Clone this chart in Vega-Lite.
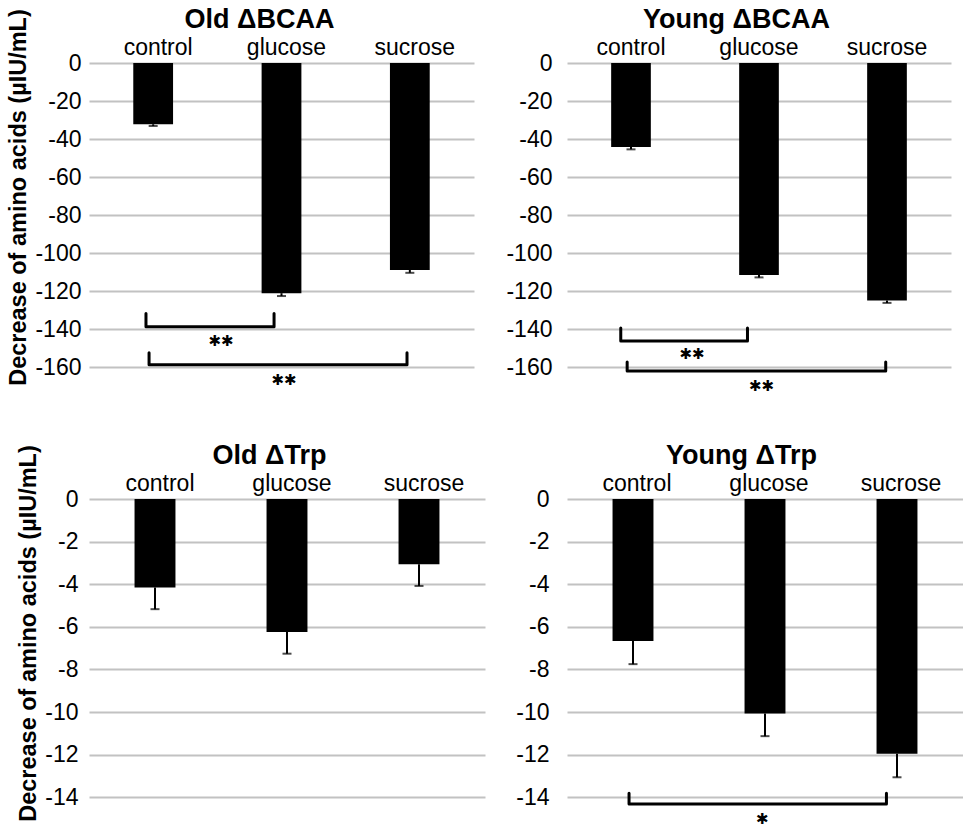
{
  "$schema": "https://vega.github.io/schema/vega-lite/v6.json",
  "padding": {"left": 6, "top": 5, "right": 0, "bottom": 0},
  "config": {
    "font": "Liberation Sans",
    "view": {"stroke": null},
    "axis": {"labelColor": "black", "titleColor": "black", "domain": false, "ticks": false, "tickSize": 0, "gridColor": "#c2c2c2", "gridWidth": 2},
    "axisX": {"orient": "top", "labelAngle": 0, "labelFontSize": 23, "labelPadding": 4, "grid": false, "titleFontSize": 27, "titleFontWeight": "bold", "titlePadding": 3},
    "axisY": {"grid": true, "labelFontSize": 23, "labelExpr": "'' + datum.value", "titleFontSize": 23.5, "titleFontWeight": "bold", "titlePadding": 4}
  },
  "datasets": {
    "bars": [
      {"panel": "Old BCAA", "group": "control", "mean": -32.2, "low": -33.1},
      {"panel": "Old BCAA", "group": "glucose", "mean": -121.0, "low": -122.5},
      {"panel": "Old BCAA", "group": "sucrose", "mean": -108.8, "low": -110.3},
      {"panel": "Young BCAA", "group": "control", "mean": -44.2, "low": -45.4},
      {"panel": "Young BCAA", "group": "glucose", "mean": -111.4, "low": -112.7},
      {"panel": "Young BCAA", "group": "sucrose", "mean": -124.9, "low": -126.1},
      {"panel": "Old Trp", "group": "control", "mean": -4.15, "low": -5.17},
      {"panel": "Old Trp", "group": "glucose", "mean": -6.24, "low": -7.26},
      {"panel": "Old Trp", "group": "sucrose", "mean": -3.06, "low": -4.08},
      {"panel": "Young Trp", "group": "control", "mean": -6.66, "low": -7.75},
      {"panel": "Young Trp", "group": "glucose", "mean": -10.07, "low": -11.13},
      {"panel": "Young Trp", "group": "sucrose", "mean": -11.96, "low": -13.06}
    ],
    "brackets": [
      {"panel": "Old BCAA", "id": 1, "seq": 1, "pos": 0.444, "val": -131.7},
      {"panel": "Old BCAA", "id": 1, "seq": 2, "pos": 0.444, "val": -138.6},
      {"panel": "Old BCAA", "id": 1, "seq": 3, "pos": 1.442, "val": -138.6},
      {"panel": "Old BCAA", "id": 1, "seq": 4, "pos": 1.442, "val": -131.7},
      {"panel": "Old BCAA", "id": 2, "seq": 1, "pos": 0.468, "val": -152.3},
      {"panel": "Old BCAA", "id": 2, "seq": 2, "pos": 0.468, "val": -158.6},
      {"panel": "Old BCAA", "id": 2, "seq": 3, "pos": 2.478, "val": -158.6},
      {"panel": "Old BCAA", "id": 2, "seq": 4, "pos": 2.478, "val": -152.3},
      {"panel": "Young BCAA", "id": 1, "seq": 1, "pos": 0.42, "val": -139.3},
      {"panel": "Young BCAA", "id": 1, "seq": 2, "pos": 0.42, "val": -146.2},
      {"panel": "Young BCAA", "id": 1, "seq": 3, "pos": 1.41, "val": -146.2},
      {"panel": "Young BCAA", "id": 1, "seq": 4, "pos": 1.41, "val": -139.3},
      {"panel": "Young BCAA", "id": 2, "seq": 1, "pos": 0.47, "val": -157.2},
      {"panel": "Young BCAA", "id": 2, "seq": 2, "pos": 0.47, "val": -161.9},
      {"panel": "Young BCAA", "id": 2, "seq": 3, "pos": 2.49, "val": -161.9},
      {"panel": "Young BCAA", "id": 2, "seq": 4, "pos": 2.49, "val": -157.2},
      {"panel": "Young Trp", "id": 1, "seq": 1, "pos": 0.47, "val": -13.81},
      {"panel": "Young Trp", "id": 1, "seq": 2, "pos": 0.47, "val": -14.31},
      {"panel": "Young Trp", "id": 1, "seq": 3, "pos": 2.42, "val": -14.31},
      {"panel": "Young Trp", "id": 1, "seq": 4, "pos": 2.42, "val": -13.81}
    ],
    "stars": [
      {"panel": "Old BCAA", "pos": 1.029, "val": -145.9, "label": "✱✱"},
      {"panel": "Old BCAA", "pos": 1.52, "val": -166.5, "label": "✱✱"},
      {"panel": "Young BCAA", "pos": 0.977, "val": -153.0, "label": "✱✱"},
      {"panel": "Young BCAA", "pos": 1.52, "val": -169.8, "label": "✱✱"},
      {"panel": "Young Trp", "pos": 1.48, "val": -15.02, "label": "✱"}
    ]
  },
  "bounds": "flush",
  "columns": 2,
  "spacing": {"row": 105, "column": 82},
  "concat": [
    {
      "width": 385, "height": 331,
      "resolve": {"scale": {"x": "independent"}, "axis": {"x": "independent", "y": "independent"}},
      "layer": [
        {
          "data": {"name": "bars"},
          "transform": [{"filter": "datum.panel === 'Old BCAA'"}],
          "mark": {"type": "bar", "color": "black"},
          "encoding": {
            "x": {"field": "group", "type": "nominal", "sort": ["control", "glucose", "sucrose"], "scale": {"paddingInner": 0.69, "paddingOuter": 0.345}, "axis": {"title": "Old ΔBCAA", "titleX": 170, "labelOffset": 5}},
            "y": {"field": "mean", "type": "quantitative", "scale": {"domain": [-174, 0], "nice": false, "zero": false}, "axis": {"values": [0, -20, -40, -60, -80, -100, -120, -140, -160], "labelPadding": 8, "title": "Decrease of amino acids (µIU/mL)", "titleY": 134}}
          }
        },
        {
          "data": {"name": "bars"},
          "transform": [{"filter": "datum.panel === 'Old BCAA'"}],
          "mark": {"type": "rule", "color": "black", "strokeWidth": 2},
          "encoding": {
            "x": {"field": "group", "type": "nominal", "sort": ["control", "glucose", "sucrose"], "axis": null},
            "y": {"field": "mean", "type": "quantitative", "scale": {"domain": [-174, 0], "nice": false, "zero": false}, "axis": null},
            "y2": {"field": "low"}
          }
        },
        {
          "data": {"name": "bars"},
          "transform": [{"filter": "datum.panel === 'Old BCAA'"}],
          "mark": {"type": "tick", "color": "black", "size": 9, "thickness": 2},
          "encoding": {
            "x": {"field": "group", "type": "nominal", "sort": ["control", "glucose", "sucrose"], "axis": null},
            "y": {"field": "low", "type": "quantitative", "scale": {"domain": [-174, 0], "nice": false, "zero": false}, "axis": null}
          }
        },
        {
          "data": {"name": "brackets"},
          "transform": [{"filter": "datum.panel === 'Old BCAA'"}],
          "mark": {"type": "line", "color": "black", "strokeWidth": 3, "strokeJoin": "round", "strokeCap": "round"},
          "encoding": {
            "x": {"field": "pos", "type": "quantitative", "scale": {"domain": [0, 3], "nice": false}, "axis": null},
            "y": {"field": "val", "type": "quantitative", "scale": {"domain": [-174, 0], "nice": false, "zero": false}, "axis": null},
            "detail": {"field": "id"},
            "order": {"field": "seq"}
          }
        },
        {
          "data": {"name": "stars"},
          "transform": [{"filter": "datum.panel === 'Old BCAA'"}],
          "mark": {"type": "text", "font": "DejaVu Sans", "fontSize": 15, "baseline": "middle", "color": "black"},
          "encoding": {
            "x": {"field": "pos", "type": "quantitative", "scale": {"domain": [0, 3], "nice": false}, "axis": null},
            "y": {"field": "val", "type": "quantitative", "scale": {"domain": [-174, 0], "nice": false, "zero": false}, "axis": null},
            "text": {"field": "label"}
          }
        }
      ]
    },
    {
      "width": 384, "height": 331,
      "resolve": {"scale": {"x": "independent"}, "axis": {"x": "independent", "y": "independent"}},
      "layer": [
        {
          "data": {"name": "bars"},
          "transform": [{"filter": "datum.panel === 'Young BCAA'"}],
          "mark": {"type": "bar", "color": "black"},
          "encoding": {
            "x": {"field": "group", "type": "nominal", "sort": ["control", "glucose", "sucrose"], "scale": {"paddingInner": 0.69, "paddingOuter": 0.345}, "axis": {"title": "Young ΔBCAA", "titleX": 169, "labelOffset": 0}},
            "y": {"field": "mean", "type": "quantitative", "scale": {"domain": [-174, 0], "nice": false, "zero": false}, "axis": {"values": [0, -20, -40, -60, -80, -100, -120, -140, -160], "labelPadding": 15, "title": null}}
          }
        },
        {
          "data": {"name": "bars"},
          "transform": [{"filter": "datum.panel === 'Young BCAA'"}],
          "mark": {"type": "rule", "color": "black", "strokeWidth": 2},
          "encoding": {
            "x": {"field": "group", "type": "nominal", "sort": ["control", "glucose", "sucrose"], "axis": null},
            "y": {"field": "mean", "type": "quantitative", "scale": {"domain": [-174, 0], "nice": false, "zero": false}, "axis": null},
            "y2": {"field": "low"}
          }
        },
        {
          "data": {"name": "bars"},
          "transform": [{"filter": "datum.panel === 'Young BCAA'"}],
          "mark": {"type": "tick", "color": "black", "size": 9, "thickness": 2},
          "encoding": {
            "x": {"field": "group", "type": "nominal", "sort": ["control", "glucose", "sucrose"], "axis": null},
            "y": {"field": "low", "type": "quantitative", "scale": {"domain": [-174, 0], "nice": false, "zero": false}, "axis": null}
          }
        },
        {
          "data": {"name": "brackets"},
          "transform": [{"filter": "datum.panel === 'Young BCAA'"}],
          "mark": {"type": "line", "color": "black", "strokeWidth": 3, "strokeJoin": "round", "strokeCap": "round"},
          "encoding": {
            "x": {"field": "pos", "type": "quantitative", "scale": {"domain": [0, 3], "nice": false}, "axis": null},
            "y": {"field": "val", "type": "quantitative", "scale": {"domain": [-174, 0], "nice": false, "zero": false}, "axis": null},
            "detail": {"field": "id"},
            "order": {"field": "seq"}
          }
        },
        {
          "data": {"name": "stars"},
          "transform": [{"filter": "datum.panel === 'Young BCAA'"}],
          "mark": {"type": "text", "font": "DejaVu Sans", "fontSize": 15, "baseline": "middle", "color": "black"},
          "encoding": {
            "x": {"field": "pos", "type": "quantitative", "scale": {"domain": [0, 3], "nice": false}, "axis": null},
            "y": {"field": "val", "type": "quantitative", "scale": {"domain": [-174, 0], "nice": false, "zero": false}, "axis": null},
            "text": {"field": "label"}
          }
        }
      ]
    },
    {
      "width": 396, "height": 326,
      "resolve": {"scale": {"x": "independent"}, "axis": {"x": "independent", "y": "independent"}},
      "layer": [
        {
          "data": {"name": "bars"},
          "transform": [{"filter": "datum.panel === 'Old Trp'"}],
          "mark": {"type": "bar", "color": "black"},
          "encoding": {
            "x": {"field": "group", "type": "nominal", "sort": ["control", "glucose", "sucrose"], "scale": {"paddingInner": 0.69, "paddingOuter": 0.345}, "axis": {"title": "Old ΔTrp", "titleX": 180, "labelOffset": 5}},
            "y": {"field": "mean", "type": "quantitative", "scale": {"domain": [-15.3, 0], "nice": false, "zero": false}, "axis": {"values": [0, -2, -4, -6, -8, -10, -12, -14], "labelPadding": 11, "title": "Decrease of amino acids (µIU/mL)", "titleY": 134}}
          }
        },
        {
          "data": {"name": "bars"},
          "transform": [{"filter": "datum.panel === 'Old Trp'"}],
          "mark": {"type": "rule", "color": "black", "strokeWidth": 2},
          "encoding": {
            "x": {"field": "group", "type": "nominal", "sort": ["control", "glucose", "sucrose"], "axis": null},
            "y": {"field": "mean", "type": "quantitative", "scale": {"domain": [-15.3, 0], "nice": false, "zero": false}, "axis": null},
            "y2": {"field": "low"}
          }
        },
        {
          "data": {"name": "bars"},
          "transform": [{"filter": "datum.panel === 'Old Trp'"}],
          "mark": {"type": "tick", "color": "black", "size": 9, "thickness": 2},
          "encoding": {
            "x": {"field": "group", "type": "nominal", "sort": ["control", "glucose", "sucrose"], "axis": null},
            "y": {"field": "low", "type": "quantitative", "scale": {"domain": [-15.3, 0], "nice": false, "zero": false}, "axis": null}
          }
        }
      ]
    },
    {
      "width": 396, "height": 326,
      "resolve": {"scale": {"x": "independent"}, "axis": {"x": "independent", "y": "independent"}},
      "layer": [
        {
          "data": {"name": "bars"},
          "transform": [{"filter": "datum.panel === 'Young Trp'"}],
          "mark": {"type": "bar", "color": "black"},
          "encoding": {
            "x": {"field": "group", "type": "nominal", "sort": ["control", "glucose", "sucrose"], "scale": {"paddingInner": 0.69, "paddingOuter": 0.345}, "axis": {"title": "Young ΔTrp", "titleX": 174, "labelOffset": 4}},
            "y": {"field": "mean", "type": "quantitative", "scale": {"domain": [-15.3, 0], "nice": false, "zero": false}, "axis": {"values": [0, -2, -4, -6, -8, -10, -12, -14], "labelPadding": 18, "title": null}}
          }
        },
        {
          "data": {"name": "bars"},
          "transform": [{"filter": "datum.panel === 'Young Trp'"}],
          "mark": {"type": "rule", "color": "black", "strokeWidth": 2},
          "encoding": {
            "x": {"field": "group", "type": "nominal", "sort": ["control", "glucose", "sucrose"], "axis": null},
            "y": {"field": "mean", "type": "quantitative", "scale": {"domain": [-15.3, 0], "nice": false, "zero": false}, "axis": null},
            "y2": {"field": "low"}
          }
        },
        {
          "data": {"name": "bars"},
          "transform": [{"filter": "datum.panel === 'Young Trp'"}],
          "mark": {"type": "tick", "color": "black", "size": 9, "thickness": 2},
          "encoding": {
            "x": {"field": "group", "type": "nominal", "sort": ["control", "glucose", "sucrose"], "axis": null},
            "y": {"field": "low", "type": "quantitative", "scale": {"domain": [-15.3, 0], "nice": false, "zero": false}, "axis": null}
          }
        },
        {
          "data": {"name": "brackets"},
          "transform": [{"filter": "datum.panel === 'Young Trp'"}],
          "mark": {"type": "line", "color": "black", "strokeWidth": 3, "strokeJoin": "round", "strokeCap": "round"},
          "encoding": {
            "x": {"field": "pos", "type": "quantitative", "scale": {"domain": [0, 3], "nice": false}, "axis": null},
            "y": {"field": "val", "type": "quantitative", "scale": {"domain": [-15.3, 0], "nice": false, "zero": false}, "axis": null},
            "detail": {"field": "id"},
            "order": {"field": "seq"}
          }
        },
        {
          "data": {"name": "stars"},
          "transform": [{"filter": "datum.panel === 'Young Trp'"}],
          "mark": {"type": "text", "font": "DejaVu Sans", "fontSize": 15, "baseline": "middle", "color": "black"},
          "encoding": {
            "x": {"field": "pos", "type": "quantitative", "scale": {"domain": [0, 3], "nice": false}, "axis": null},
            "y": {"field": "val", "type": "quantitative", "scale": {"domain": [-15.3, 0], "nice": false, "zero": false}, "axis": null},
            "text": {"field": "label"}
          }
        }
      ]
    }
  ]
}
